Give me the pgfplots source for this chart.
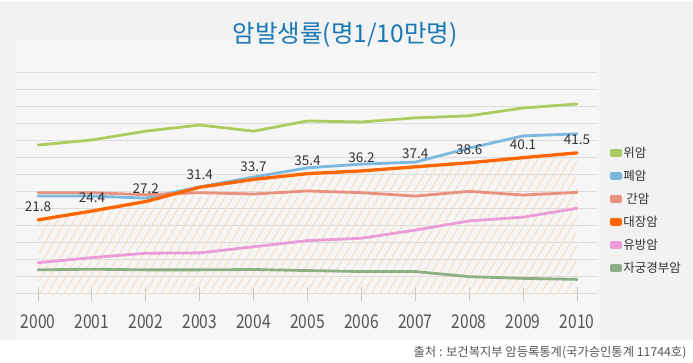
\documentclass[border=0pt]{standalone}
\usepackage{pgfplots}
\pgfplotsset{compat=1.18}
\usepackage{fontspec}
\setmainfont{Noto Sans CJK KR}
\newfontfamily\cond[FakeStretch=0.82]{Noto Sans CJK KR}
\usetikzlibrary{patterns.meta}
\definecolor{panel}{HTML}{F2F2F2}
\definecolor{inner}{HTML}{F6F6F6}
\definecolor{titleblue}{HTML}{1A78B5}
\definecolor{gridc}{HTML}{DCDCDC}
\definecolor{tickc}{HTML}{C8C8C8}
\definecolor{labgray}{HTML}{333333}
\definecolor{tickgray}{HTML}{555555}
\definecolor{hatch}{HTML}{F5DCC0}
\definecolor{cA}{HTML}{AECB62}
\definecolor{cB}{HTML}{7DB9DF}
\definecolor{cC}{HTML}{E8917F}
\definecolor{cD}{HTML}{FF6600}
\definecolor{cE}{HTML}{EB9BD6}
\definecolor{cF}{HTML}{8CAF84}
\begin{document}
\begin{tikzpicture}[x=1pt,y=1pt]
\fill[white] (0,0) rectangle (693,361);
\fill[panel] (0,21) rectangle (693,359);
\fill[inner] (15,21) rectangle (599,321);
\node[text=titleblue, font=\fontsize{24.5}{26}\selectfont] at (345,326) {암발생률(명1/10만명)};
\node[anchor=east, text=tickgray, font=\fontsize{12.3}{14}\selectfont] at (690,8) {출처 : 보건복지부 암등록통계(국가승인통계 11744호)};
\begin{axis}[
  at={(15pt,67pt)}, anchor=south west, scale only axis,
  width=582pt, height=221pt,
  xmin=-0.427, xmax=10.371, ymin=0, ymax=65,
  axis line style={draw=none},
  ytick={0,5,...,65}, yticklabels={}, ymajorgrids,
  major grid style={draw=gridc, line width=1pt},
  ytick style={draw=none},
  xtick={0,1,...,10}, xtick pos=bottom,
  xticklabels={2000,2001,2002,2003,2004,2005,2006,2007,2008,2009,2010},
  xtick style={draw=tickc, line width=0.9pt},
  tick align=center, major tick length=14pt,
  x tick label style={font=\cond\fontsize{19}{20}\selectfont, text=tickgray, anchor=center, yshift=-21pt},
  clip=false,
  legend style={at={(1.022,0.67)}, anchor=north west, draw=none, fill=none,
    font=\fontsize{12.5}{14}\selectfont, text=labgray, row sep=9.2pt, inner sep=0pt,
    nodes={inner sep=1pt}},
  legend cell align=left,
  legend image code/.code={\fill (0pt,-2.5pt) rectangle (9pt,2.5pt);},
  every axis plot/.append style={line join=round, line cap=round},
]
\addplot[forget plot, draw=none, pattern={Lines[angle=60,distance=7pt,line width=0.9pt]}, pattern color=hatch]
  coordinates {(0,21.8) (1,24.4) (2,27.2) (3,31.4) (4,33.7) (5,35.4) (6,36.2) (7,37.4) (8,38.6) (9,40.1) (10,41.5)} \closedcycle;
\addplot[color=cA, line width=2.8pt] coordinates {(0,43.8) (1,45.3) (2,47.9) (3,49.7) (4,47.9) (5,50.9) (6,50.6) (7,51.8) (8,52.4) (9,54.7) (10,55.9)};
\addlegendentry{위암}
\addplot[color=cB, line width=2.8pt] coordinates {(0,28.8) (1,28.8) (2,28.2) (3,31.5) (4,34.4) (5,37.1) (6,38.2) (7,38.8) (8,42.9) (9,46.5) (10,47.1)};
\addlegendentry{폐암}
\addplot[color=cC, line width=2.8pt] coordinates {(0,29.8) (1,29.8) (2,29.2) (3,29.8) (4,29.4) (5,30.3) (6,29.8) (7,28.8) (8,30.2) (9,29.1) (10,29.9)};
\addlegendentry{\hspace{3pt}간암}
\addplot[color=cD, line width=3.3pt, nodes near coords, point meta=explicit symbolic,
  nodes near coords style={font=\fontsize{13.5}{15}\selectfont, text=labgray, anchor=center, yshift=13pt}]
  coordinates {(0,21.8) [21.8] (1,24.4) [24.4] (2,27.2) [27.2] (3,31.4) [31.4] (4,33.7) [33.7] (5,35.4) [35.4] (6,36.2) [36.2] (7,37.4) [37.4] (8,38.6) [38.6] (9,40.1) [40.1] (10,41.5) [41.5]};
\addlegendentry{대장암}
\addplot[color=cE, line width=2.8pt] coordinates {(0,9.2) (1,10.7) (2,12.0) (3,12.1) (4,13.9) (5,15.7) (6,16.4) (7,18.8) (8,21.5) (9,22.6) (10,25.2)};
\addlegendentry{유방암}
\addplot[color=cF, line width=2.8pt] coordinates {(0,7.1) (1,7.3) (2,7.1) (3,7.1) (4,7.2) (5,6.9) (6,6.6) (7,6.6) (8,5.1) (9,4.6) (10,4.3)};
\addlegendentry{자궁경부암}
\end{axis}
\end{tikzpicture}
\end{document}
